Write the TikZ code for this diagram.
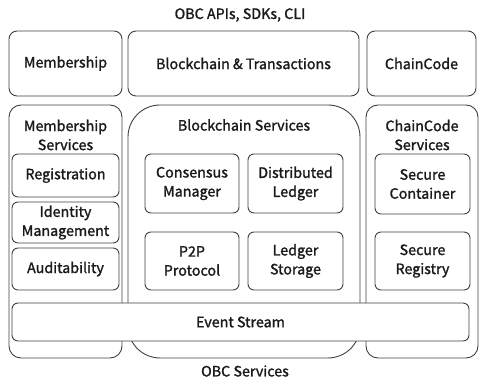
\documentclass[tikz,border=0pt]{standalone}
\usepackage{fontspec}
\setmainfont{Noto Sans CJK SC}[BoldFont={Noto Sans CJK SC}, BoldFeatures={FakeBold=1.4}]
\definecolor{linegray}{HTML}{404040}
\definecolor{textgray}{HTML}{1A1A1A}
\begin{document}
\begin{tikzpicture}[x=1pt, y=-1pt,
  every node/.style={text=textgray, font=\fontsize{14.3}{19}\selectfont\bfseries, align=center, inner sep=0pt},
  box/.style={draw=linegray, line width=0.9pt, rounded corners=8pt},
  inbox/.style={draw=linegray, line width=0.9pt, rounded corners=6pt, fill=white},
  group/.style={draw=linegray, line width=0.9pt, rounded corners=12pt}]
\useasboundingbox (0,0) rectangle (480,382);
\node (apis) at (240,15) {OBC APIs, SDKs, CLI};
% top row
\node[box, minimum width=113pt, minimum height=65pt] (mem) at (65.5,63.5) {Membership};
\node[box, minimum width=231pt, minimum height=65pt] (bct) at (243.5,63.5) {Blockchain \& Transactions};
\node[box, minimum width=109pt, minimum height=65pt] (cc) at (421.5,63.5) {ChainCode};
% service groups
\node[group, minimum width=113pt, minimum height=253pt] (msvc) at (65.5,231.5) {};
\node[group, rounded corners=32pt, minimum width=232pt, minimum height=253pt] (bsvc) at (244,231.5) {};
\node[group, minimum width=112pt, minimum height=253pt] (csvc) at (422,231.5) {};
\node (msvct) at (65.5,135) {Membership\\Services};
\node (bsvct) at (244,125) {Blockchain Services};
\node (csvct) at (422,135) {ChainCode\\Services};
% membership services
\node[inbox, minimum width=107pt, minimum height=43pt] (reg) at (65.5,175.5) {Registration};
\node[inbox, minimum width=107pt, minimum height=41pt] (idm) at (65.5,222.5) {Identity\\Management};
\node[inbox, minimum width=107pt, minimum height=42pt] (aud) at (65.5,269) {Auditability};
% blockchain services
\node[inbox, minimum width=94pt, minimum height=59pt] (cons) at (192,183.5) {Consensus\\Manager};
\node[inbox, minimum width=95pt, minimum height=59pt] (dled) at (295.5,183.5) {Distributed\\Ledger};
\node[inbox, minimum width=94pt, minimum height=58pt] (p2p) at (192,261) {P2P\\Protocol};
\node[inbox, minimum width=95pt, minimum height=58pt] (lsto) at (295.5,261) {Ledger\\Storage};
% chaincode services
\node[inbox, minimum width=95pt, minimum height=60pt] (scon) at (422.5,184) {Secure\\Container};
\node[inbox, minimum width=95pt, minimum height=58pt] (sreg) at (422.5,261) {Secure\\Registry};
% event stream
\node[inbox, minimum width=457pt, minimum height=38pt] (evt) at (240.5,322) {Event Stream};
\node (obcs) at (245,371) {OBC Services};
\end{tikzpicture}
\end{document}
